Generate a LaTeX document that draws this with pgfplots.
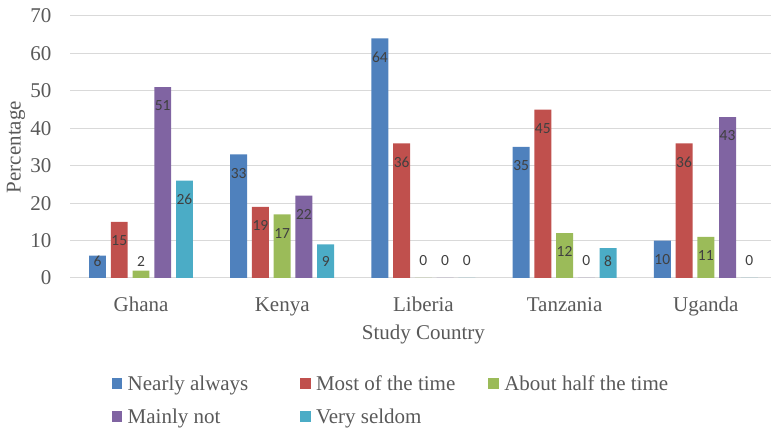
\documentclass[border=0pt]{standalone}
\usepackage{pgfplots}
\pgfplotsset{compat=1.18}
\usepackage{fontspec}
\setmainfont{Liberation Serif}
\newfontfamily\calibri{Carlito}

\definecolor{cA}{HTML}{4F81BD}
\definecolor{cB}{HTML}{C0504D}
\definecolor{cC}{HTML}{9BBB59}
\definecolor{cD}{HTML}{8064A2}
\definecolor{cE}{HTML}{4BACC6}
\definecolor{txt}{HTML}{595959}
\definecolor{lbl}{HTML}{404040}
\definecolor{grd}{HTML}{D9D9D9}

\begin{document}
\begin{tikzpicture}
\begin{axis}[
    scale only axis, width=706pt, height=262pt,
    ybar, bar width=0.12,
    xmin=-0.5, xmax=4.5, ymin=0, ymax=70,
    xtick={0,...,4},
    xticklabels={Ghana,Kenya,Liberia,Tanzania,Uganda},
    ytick={0,10,...,70},
    ymajorgrids, grid style={grd, line width=1pt},
    axis line style={draw=none}, major tick length=0pt,
    /pgf/number format/assume math mode=true,
    tick label style={font=\fontsize{21}{25}\selectfont, text=txt},
    yticklabel style={anchor=east, inner sep=0pt, xshift=-18.7pt},
    xticklabel style={anchor=base, inner sep=0pt, yshift=-34pt},
    every axis y label/.style={at={(axis description cs:-0.0771,0.5)}, rotate=90, anchor=center,
        font=\fontsize{21}{25}\selectfont, text=txt},
    every axis x label/.style={at={(axis description cs:0.5,-0.2366)}, anchor=base,
        font=\fontsize{21}{25}\selectfont, text=txt},
    ylabel={Percentage},
    xlabel={Study Country},
    nodes near coords,
    visualization depends on={y \as \rawy},
    every node near coord/.append style={font=\calibri\fontsize{15.5}{18}\selectfont, text=lbl,
        anchor=center, yshift={max(-18.7,(4.54-\rawy)*3.743)}},
    legend columns=3,
    legend cell align=left,
    legend style={draw=none, fill=none, inner sep=0pt, outer sep=0pt, anchor=north west,
        at={(axis description cs:0.0585,-0.3729)}, row sep=13.2pt, column sep=0pt,
        nodes={inner xsep=5.5pt, inner ysep=0pt, text height=15pt, text depth=5pt, anchor=west,
            font=\fontsize{21}{25}\selectfont, text=txt}},
    legend image code/.code={\fill[#1] (0pt,-3pt) rectangle (10.5pt,7.5pt);},
]
\addplot[fill=cA, draw=none, bar shift=-0.308] coordinates {(0,6) (1,33) (2,64) (3,35) (4,10)};
\addplot[fill=cB, draw=none, bar shift=-0.154] coordinates {(0,15) (1,19) (2,36) (3,45) (4,36)};
\addplot[fill=cC, draw=none, bar shift=0] coordinates {(0,2) (1,17) (2,0) (3,12) (4,11)};
\addplot[fill=cD, draw=none, bar shift=0.154] coordinates {(0,51) (1,22) (2,0) (3,0) (4,43)};
\addplot[fill=cE, draw=none, bar shift=0.308] coordinates {(0,26) (1,9) (2,0) (3,8) (4,0)};
\legend{\makebox[166.8pt][l]{Nearly always},\makebox[166.8pt][l]{Most of the time},\makebox[166.8pt][l]{About half the time},\makebox[166.8pt][l]{Mainly not},\makebox[166.8pt][l]{Very seldom}}
\end{axis}
\pgfresetboundingbox
\path[use as bounding box] (-70.4pt,-152pt) rectangle (700.6pt,278pt);
\end{tikzpicture}
\end{document}
